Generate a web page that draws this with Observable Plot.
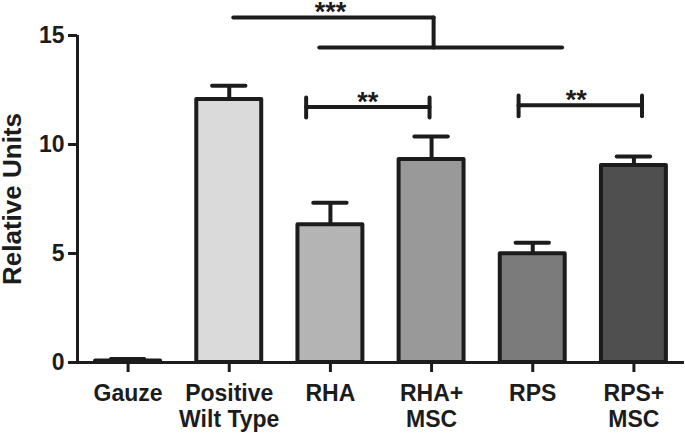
<!DOCTYPE html>
<html>
<head>
<meta charset="utf-8">
<script src="https://cdn.jsdelivr.net/npm/d3@7"></script>
<script src="https://cdn.jsdelivr.net/npm/@observablehq/plot@0.6"></script>
<style>
  html, body { margin: 0; padding: 0; background: #fff; }
  #chart svg { display: block; }
</style>
</head>
<body>
<div id="chart"></div>
<script>
// ---- data ----
const categories = ["Gauze", "Positive\nWilt Type", "RHA", "RHA+\nMSC", "RPS", "RPS+\nMSC"];
const values = [0.07, 12.06, 6.32, 9.31, 4.99, 9.04];
const errors = [0.09, 0.64, 1.01, 1.06, 0.50, 0.41];
const fills = ["#333333", "#dadada", "#b4b4b4", "#999999", "#7b7b7b", "#4f4f4f"];
const yTicks = [0, 5, 10, 15];
const yLabel = "Relative Units";

// significance annotations (x in category-slot units, y in data units)
const sigSegments = [
  {x1: 1.54, x2: 3.52, y1: 15.83, y2: 15.83},
  {x1: 3.52, x2: 3.52, y1: 15.83, y2: 14.45},
  {x1: 2.39, x2: 4.79, y1: 14.45, y2: 14.45},
  {x1: 2.26, x2: 3.48, y1: 11.72, y2: 11.72},
  {x1: 2.26, x2: 2.26, y1: 12.16, y2: 11.24},
  {x1: 3.48, x2: 3.48, y1: 12.16, y2: 11.24},
  {x1: 4.36, x2: 5.58, y1: 11.80, y2: 11.80},
  {x1: 4.36, x2: 4.36, y1: 12.25, y2: 11.30},
  {x1: 5.58, x2: 5.58, y1: 12.25, y2: 11.30}
];
const sigLabels = [
  {x: 2.50, y: 15.83, text: "***"},
  {x: 2.87, y: 11.72, text: "**"},
  {x: 4.93, y: 11.80, text: "**"}
];

// ---- build table ----
const barWidth = 0.642;
const rows = categories.map((c, i) => ({
  i, c, v: values[i], e: errors[i], fill: fills[i],
  x1: i + (1 - barWidth) / 2, x2: i + 1 - (1 - barWidth) / 2, xc: i + 0.5
}));
const capHalf = 0.165;
const ink = "#1c1c1c";

const chart = Plot.plot({
  width: 685,
  height: 433,
  marginLeft: 77,
  marginRight: 1,
  marginTop: 35,
  marginBottom: 71,
  style: {fontFamily: "'Liberation Sans', Arial, Helvetica, sans-serif", color: ink, background: "#fff"},
  x: {type: "linear", domain: [0, categories.length], axis: null},
  y: {domain: [0, 15], axis: null},
  marks: [
    Plot.rectY(rows, {x1: "x1", x2: "x2", y1: 0, y2: "v", fill: "fill", stroke: ink, strokeWidth: 4, strokeLinejoin: "round"}),
    Plot.ruleX(rows, {x: "xc", y1: "v", y2: d => d.v + d.e, stroke: ink, strokeWidth: 4}),
    Plot.ruleY(rows, {y: d => d.v + d.e, x1: d => d.xc - capHalf, x2: d => d.xc + capHalf, stroke: ink, strokeWidth: 4, strokeLinecap: "round"}),
    Plot.ruleY([0], {stroke: ink, strokeWidth: 3}),
    Plot.ruleX([0], {y1: 0, y2: 15, stroke: ink, strokeWidth: 3}),
    Plot.axisY({ticks: yTicks, tickSize: 9, tickPadding: 4, fontSize: 23, fontWeight: "bold", stroke: ink, strokeWidth: 3, fill: ink, label: null}),
    Plot.axisX({ticks: rows.map(d => d.xc), tickFormat: (d) => categories[Math.floor(d)], tickSize: 10, tickPadding: 10, fontSize: 23, fontWeight: "bold", lineHeight: 1.13, stroke: ink, strokeWidth: 3, fill: ink, label: null}),
    Plot.text([yLabel], {frameAnchor: "left", textAnchor: "middle", rotate: -90, dx: -65, fontSize: 26, fontWeight: "bold", fill: ink}),
    Plot.link(sigSegments, {x1: "x1", x2: "x2", y1: "y1", y2: "y2", stroke: ink, strokeWidth: 4, strokeLinecap: "round"}),
    Plot.text(sigLabels, {x: "x", y: "y", text: "text", lineAnchor: "bottom", dy: 4, fontSize: 27, fontWeight: "bold", fill: ink})
  ]
});
document.getElementById("chart").appendChild(chart);
</script>
</body>
</html>
